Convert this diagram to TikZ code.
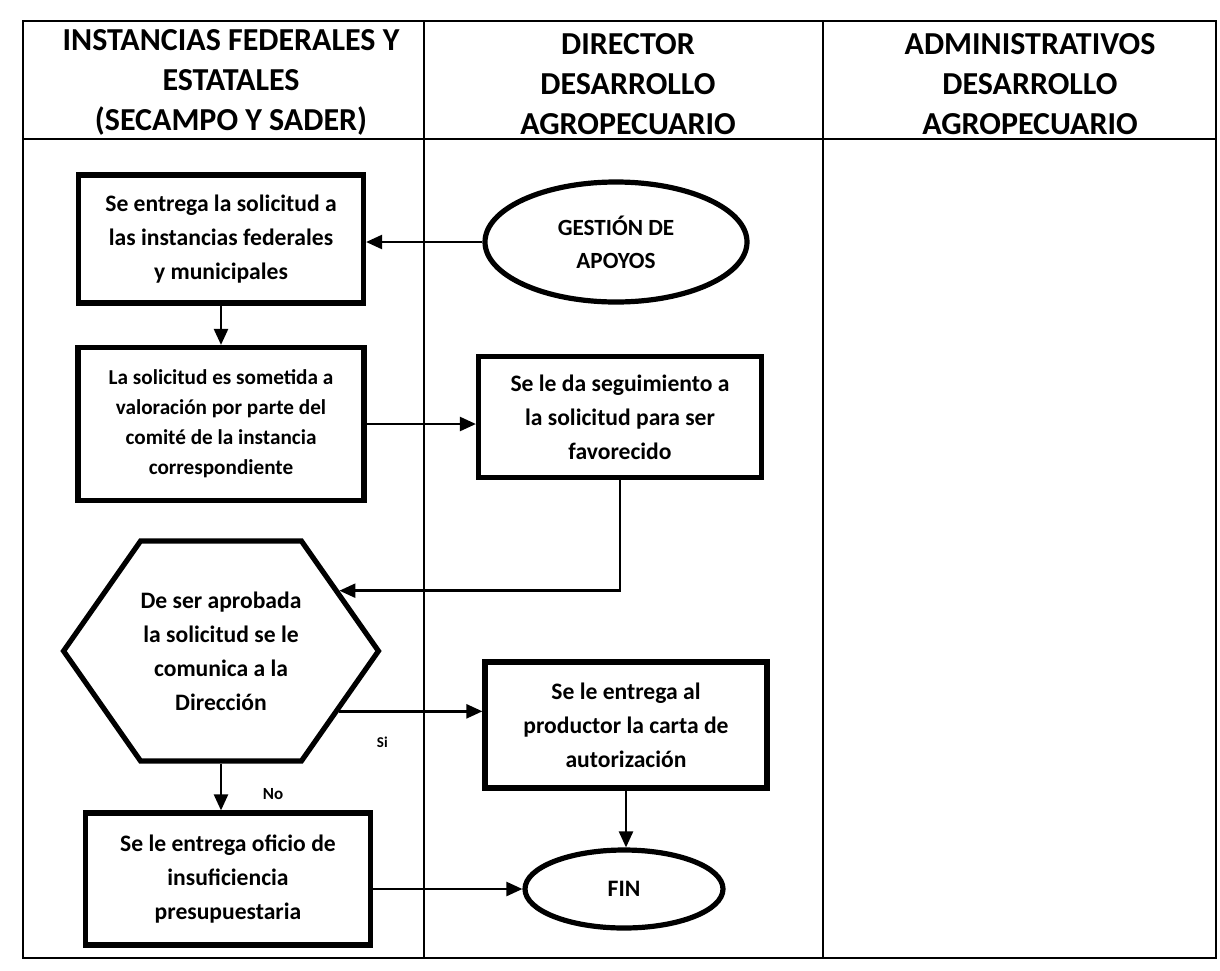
\documentclass[tikz,border=0pt]{standalone}
\usepackage{fontspec}
\setmainfont{Carlito}
\usetikzlibrary{arrows.meta,positioning,shapes.geometric,shapes.symbols}

\begin{document}
\begin{tikzpicture}[
  x=0.5pt,y=-0.5pt,
  every node/.style={font=\bfseries\fontsize{11.8}{17}\selectfont},
  lane/.style={draw,line width=0.9pt},
  head/.style={align=center,font=\bfseries\fontsize{16}{20}\selectfont},
  block/.style={rectangle,draw,line width=2.6pt,align=center,inner sep=0pt},
  term/.style={ellipse,draw,line width=2.6pt,align=center,inner sep=0pt},
  test/.style={signal,signal to=east and west,signal pointer angle=110,draw,line width=2.6pt,align=center,inner sep=0pt},
  line/.style={line width=1.2pt,-{Triangle[length=8pt,width=7pt]}}]
\useasboundingbox (0,0) rectangle (1220,970);
\draw[lane] (23,21) rectangle (1216,958);
\draw[lane] (23,139) -- (1216,139);
\draw[lane] (424,21) -- (424,958);
\draw[lane] (823,21) -- (823,958);
\node[head] (lane1) at (231,82) {INSTANCIAS FEDERALES Y\\ESTATALES\\(SECAMPO Y SADER)};
\node[head] (lane2) at (628,84) {DIRECTOR\\DESARROLLO\\AGROPECUARIO};
\node[head] (lane3) at (1030,84) {ADMINISTRATIVOS\\DESARROLLO\\AGROPECUARIO};
\node[term,minimum width=131pt,minimum height=60pt,font=\bfseries\fontsize{11.6}{16.5}\selectfont] (start) at (616,242) {GESTIÓN DE\\APOYOS};
\node[block,minimum width=142.5pt,minimum height=64pt] (recv) at (221,239) {Se entrega la solicitud a\\las instancias federales\\y municipales};
\node[block,minimum width=143pt,minimum height=76.5pt,font=\bfseries\fontsize{10.6}{15}\selectfont] (eval) at (221,424) {La solicitud es sometida a\\valoración por parte del\\comité de la instancia\\correspondiente};
\node[block,minimum width=141.5pt,minimum height=60.5pt] (follow) at (620,417) {Se le da seguimiento a\\la solicitud para ser\\favorecido};
\node[test,minimum width=153.5pt,minimum height=110pt] (decide) at (221,651) {De ser aprobada\\la solicitud se le\\comunica a la\\Dirección};
\node[block,minimum width=141pt,minimum height=63pt] (letter) at (626,725) {Se le entrega al\\productor la carta de\\autorización};
\node[block,minimum width=142.5pt,minimum height=66pt] (denial) at (228,879) {Se le entrega oficio de\\insuficiencia\\presupuestaria};
\node[term,minimum width=99pt,minimum height=39pt] (fin) at (624,889) {FIN};
\draw[line] (start.west) -- (start.west -| recv.east);
\draw[line] (recv.south) -- (eval.north);
\draw[line] (eval.east) -- (eval.east -| follow.west);
\draw[line] (follow.south) |- (decide.27);
\draw[line] (decide.-27) -- node[below=9pt,pos=0.3,font=\bfseries\fontsize{7.5}{9}\selectfont]{Si} (decide.-27 -| letter.west);
\draw[line] (decide.south) -- node[right=17pt,pos=0.65,font=\bfseries\fontsize{8.5}{10}\selectfont]{No} (decide.south |- denial.north);
\draw[line] (letter.south) -- (letter.south |- fin.north);
\draw[line] (denial.east |- fin.west) -- (fin.west);
\end{tikzpicture}
\end{document}
